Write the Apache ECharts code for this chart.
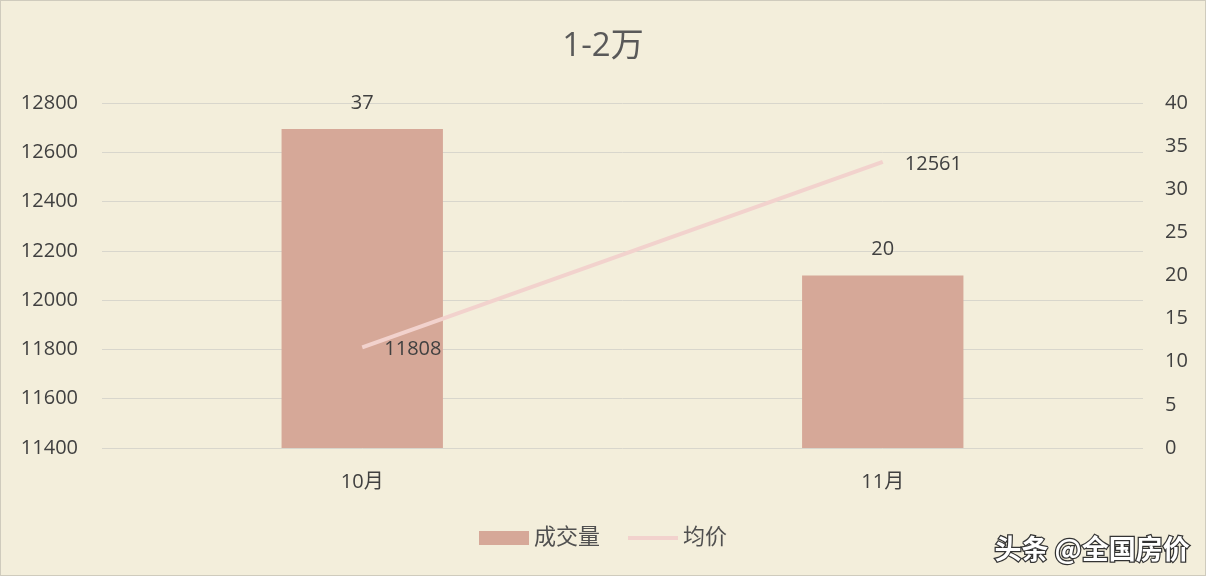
<!DOCTYPE html>
<html><head><meta charset="utf-8">
<script src="https://cdn.jsdelivr.net/npm/echarts@6/dist/echarts.min.js"></script>
<style>html,body{margin:0;padding:0;background:#f3eedb;}#c{width:1204px;height:574px;border:1px solid #cfcbbd;}</style>
</head><body><div id="c"></div>
<script>
const categories = ['10月', '11月'];
const volume = [37, 20];
const avgPrice = [11808, 12561];
const leftTicks = {min: 11400, max: 12800, interval: 200};
const rightTicks = {min: 0, max: 40, interval: 5};

const font = '"Open Sans", "Noto Sans CJK SC", sans-serif';
const chart = echarts.init(document.getElementById('c'));
chart.setOption({
  backgroundColor: '#f3eedb',
  textStyle: {fontFamily: font},
  title: {text: '1-2万', left: 'center', top: 24, textStyle: {fontSize: 33, fontWeight: 'normal', color: '#595959', fontFamily: font}},
  grid: {left: 101, right: 62, top: 102, bottom: 127, containLabel: false},
  legend: {
    bottom: 21, left: 'center', itemGap: 28, itemWidth: 50, itemHeight: 14,
    textStyle: {fontSize: 22, color: '#505050', fontFamily: font},
    data: [{name: '成交量', icon: 'rect'}, {name: '均价', icon: 'path://M0,0 H50 V4 H0 Z'}]
  },
  xAxis: {
    type: 'category', data: categories,
    axisLine: {show: false}, axisTick: {show: false},
    axisLabel: {fontSize: 20, color: '#404040', margin: 24}
  },
  yAxis: [
    {type: 'value', min: leftTicks.min, max: leftTicks.max, interval: leftTicks.interval,
     axisLine: {show: false}, axisTick: {show: false},
     axisLabel: {fontSize: 20, color: '#404040', margin: 24, align: 'right', formatter: v => String(v)},
     splitLine: {lineStyle: {color: '#d8d6cc', width: 1}}},
    {type: 'value', min: rightTicks.min, max: rightTicks.max, interval: rightTicks.interval,
     axisLine: {show: false}, axisTick: {show: false},
     axisLabel: {fontSize: 20, color: '#404040', margin: 22, formatter: v => String(v)},
     splitLine: {show: false}}
  ],
  series: [
    {name: '成交量', type: 'bar', yAxisIndex: 1, data: volume, barWidth: '31%',
     itemStyle: {color: '#d6a898'},
     label: {show: true, position: 'top', distance: 16, fontSize: 20, color: '#404040'}},
    {name: '均价', type: 'line', yAxisIndex: 0, data: avgPrice,
     symbol: 'circle', symbolSize: 0.1, showSymbol: true,
     lineStyle: {color: '#f2d2cd', width: 4}, itemStyle: {color: '#f2d2cd'},
     label: {show: true, position: 'right', distance: 22, fontSize: 20, color: '#404040', offset: [0, 2]}}
  ],
  graphic: [{
    type: 'text', right: 14, bottom: 12,
    style: {text: '头条 @全国房价', fontSize: 27, fill: '#ffffff', stroke: '#333333', lineWidth: 2.5,
      fontFamily: '"Noto Sans CJK SC", sans-serif', fontWeight: 'bold'}
  }]
});
</script></body></html>
